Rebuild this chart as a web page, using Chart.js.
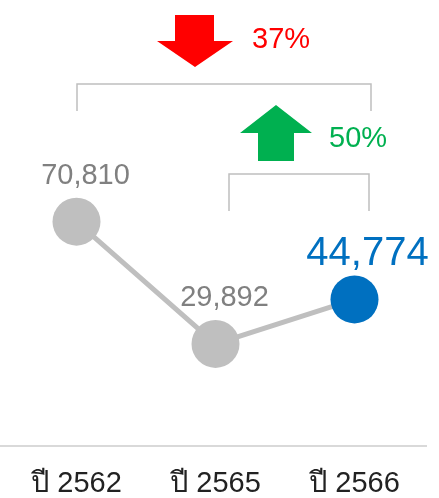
<!DOCTYPE html>
<html><head><meta charset="utf-8">
<script src="https://cdn.jsdelivr.net/npm/chart.js@4"></script>
<style>html,body{margin:0;padding:0;background:#fff}#wrap{width:439px;height:498px;position:relative}</style>
</head><body><div id="wrap"><canvas id="c"></canvas></div>
<script>
const categories = ['ปี 2562', 'ปี 2565', 'ปี 2566'];
const values = [70810, 29892, 44774];
const pointColors = ['#bfbfbf', '#bfbfbf', '#0070c0'];
const labelColors = ['#808080', '#808080', '#0070c0'];
const labelSizes = [29, 29, 40];

const FONT = '"Liberation Sans", Arial, sans-serif';
const fmt = v => v.toLocaleString('en-US');
const dropPct = Math.round((values[0] - values[2]) / values[0] * 100) + '%';
const risePct = Math.round((values[2] - values[1]) / values[1] * 100) + '%';

const decor = {
  id: 'decor',
  beforeDatasetsDraw(chart) {
    const ctx = chart.ctx;
    ctx.save();
    ctx.strokeStyle = '#d9d9d9';
    ctx.lineWidth = 2;
    ctx.beginPath();
    ctx.moveTo(0, chart.chartArea.bottom + 1);
    ctx.lineTo(427, chart.chartArea.bottom + 1);
    ctx.stroke();
    ctx.restore();
  },
  afterDatasetsDraw(chart) {
    const ctx = chart.ctx;
    const meta = chart.getDatasetMeta(0);
    ctx.save();
    // data labels
    meta.data.forEach((p, i) => {
      const big = labelSizes[i] > 30;
      ctx.font = labelSizes[i] + 'px ' + FONT;
      ctx.fillStyle = labelColors[i];
      ctx.textAlign = 'center';
      ctx.textBaseline = 'alphabetic';
      ctx.fillText(fmt(values[i]), p.x + (big ? 13 : 9), p.y - (big ? 34 : 38));
    });
    // brackets
    ctx.strokeStyle = '#bfbfbf';
    ctx.lineWidth = 1.5;
    ctx.beginPath();
    ctx.moveTo(77, 111); ctx.lineTo(77, 84); ctx.lineTo(371, 84); ctx.lineTo(371, 111);
    ctx.stroke();
    ctx.beginPath();
    ctx.moveTo(229, 211); ctx.lineTo(229, 174); ctx.lineTo(369, 174); ctx.lineTo(369, 211);
    ctx.stroke();
    // red down arrow
    ctx.fillStyle = '#ff0000';
    ctx.beginPath();
    ctx.moveTo(175, 15); ctx.lineTo(214, 15); ctx.lineTo(214, 41); ctx.lineTo(233, 41);
    ctx.lineTo(195, 67); ctx.lineTo(157, 41); ctx.lineTo(175, 41); ctx.closePath();
    ctx.fill();
    // green up arrow
    ctx.fillStyle = '#00b050';
    ctx.beginPath();
    ctx.moveTo(276, 105); ctx.lineTo(312, 133); ctx.lineTo(294, 133); ctx.lineTo(294, 161);
    ctx.lineTo(258, 161); ctx.lineTo(258, 133); ctx.lineTo(240, 133); ctx.closePath();
    ctx.fill();
    // percent texts
    ctx.textAlign = 'left';
    ctx.font = '29px ' + FONT;
    ctx.fillStyle = '#ff0000';
    ctx.fillText(dropPct, 252, 48);
    ctx.fillStyle = '#00b050';
    ctx.fillText(risePct, 329, 147);
    ctx.restore();
  }
};

new Chart(document.getElementById('c'), {
  type: 'line',
  data: {
    labels: categories,
    datasets: [{
      data: values,
      borderColor: '#bfbfbf',
      borderWidth: 5,
      pointRadius: 24,
      pointHoverRadius: 24,
      pointBorderWidth: 0,
      pointBackgroundColor: pointColors,
      tension: 0,
      clip: false
    }]
  },
  options: {
    responsive: true,
    maintainAspectRatio: false,
    animation: false,
    events: [],
    layout: { autoPadding: false, padding: { left: 7, right: 15, top: 0, bottom: 0 } },
    plugins: { legend: { display: false }, tooltip: { enabled: false } },
    scales: {
      x: {
        offset: true,
        grid: { display: false, drawTicks: false },
        border: { display: false },
        ticks: { color: '#222222', font: { family: FONT, size: 29 }, padding: 22, maxRotation: 0 },
        afterFit: s => { s.height = 53; }
      },
      y: { display: false, min: -3950, max: 145000 }
    }
  },
  plugins: [decor]
});
</script></body></html>
